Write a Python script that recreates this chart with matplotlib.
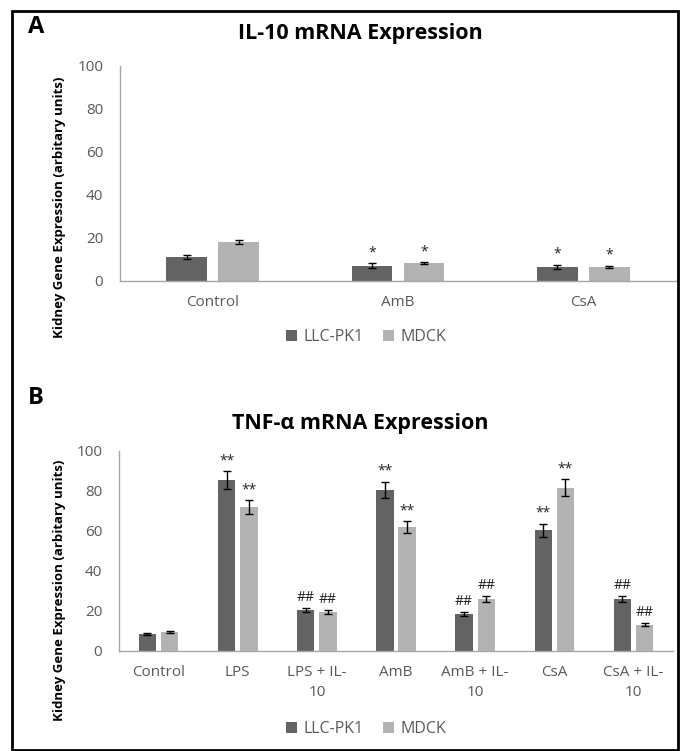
import matplotlib
matplotlib.use("Agg")
import matplotlib.pyplot as plt
import numpy as np
from matplotlib.patches import Rectangle

plt.rcParams["font.family"] = ["Open Sans", "DejaVu Sans"]

DARK = "#636363"
LIGHT = "#b3b3b3"
TICK = "#595959"
SPINE = "#a6a6a6"
SERIES = ["LLC-PK1", "MDCK"]

# panel A: IL-10
il10_cats = ["Control", "AmB", "CsA"]
il10_llc = [11.0, 7.2, 6.6]
il10_llc_err = [1.0, 1.0, 1.0]
il10_mdck = [18.0, 8.2, 6.6]
il10_mdck_err = [1.0, 0.5, 0.5]
il10_llc_mark = ["", "*", "*"]
il10_mdck_mark = ["", "*", "*"]

# panel B: TNF-alpha
tnf_cats = ["Control", "LPS", "LPS + IL-\n10", "AmB", "AmB + IL-\n10", "CsA", "CsA + IL-\n10"]
tnf_llc = [8.7, 85.5, 20.5, 80.5, 18.7, 60.4, 26.0]
tnf_llc_err = [0.5, 4.4, 1.0, 4.2, 1.0, 3.3, 1.5]
tnf_mdck = [9.3, 71.8, 19.4, 61.8, 26.2, 81.6, 13.2]
tnf_mdck_err = [0.5, 3.5, 1.0, 3.0, 1.5, 4.2, 0.8]
tnf_llc_mark = ["", "**", "##", "**", "##", "**", "##"]
tnf_mdck_mark = ["", "**", "##", "**", "##", "**", "##"]

fig = plt.figure(figsize=(6.84, 7.51), dpi=100)
W, H = 684, 751


def px_axes(left, top, right, bottom):
    return fig.add_axes([left / W, 1 - bottom / H, (right - left) / W, (bottom - top) / H])


def panel(ax, cats, llc, llc_err, mdck, mdck_err, llc_mark, mdck_mark):
    x = np.arange(len(cats))
    bw, gap = 0.22, 0.06
    off = (bw + gap) / 2
    ekw = dict(ecolor="black", elinewidth=1, capsize=3, capthick=1)
    ax.bar(x - off, llc, bw, yerr=llc_err, color=DARK, label=SERIES[0], error_kw=ekw)
    ax.bar(x + off, mdck, bw, yerr=mdck_err, color=LIGHT, label=SERIES[1], error_kw=ekw)
    for xs, vals, errs, marks in [(x - off, llc, llc_err, llc_mark), (x + off, mdck, mdck_err, mdck_mark)]:
        for xi, v, e, m in zip(xs, vals, errs, marks):
            if m:
                ax.annotate(m, (xi, v + e), xytext=(0, 2), textcoords="offset points",
                            ha="center", va="bottom", fontsize=10, color="#222222")
    ax.set_xlim(-0.5, len(cats) - 0.5)
    ax.set_ylim(0, 100)
    ax.set_yticks(range(0, 101, 20))
    ax.set_xticks(x)
    ax.set_xticklabels(cats, linespacing=1.45)
    ax.tick_params(axis="both", length=0, labelsize=11, colors=TICK)
    ax.tick_params(axis="y", pad=12)
    ax.tick_params(axis="x", pad=10)
    for s in ["top", "right"]:
        ax.spines[s].set_visible(False)
    for s in ["left", "bottom"]:
        ax.spines[s].set_color(SPINE)
        ax.spines[s].set_linewidth(1)


axA = px_axes(120, 66, 676, 281)
panel(axA, il10_cats, il10_llc, il10_llc_err, il10_mdck, il10_mdck_err, il10_llc_mark, il10_mdck_mark)
axB = px_axes(119, 451, 673, 651)
panel(axB, tnf_cats, tnf_llc, tnf_llc_err, tnf_mdck, tnf_mdck_err, tnf_llc_mark, tnf_mdck_mark)

for ax, ty, ly, lab, lx, labely in [(axA, 33, 337, "A", 28, 27), (axB, 423, 729, "B", 28, 398)]:
    fig.text(360 / W, 1 - ty / H, "IL-10 mRNA Expression" if lab == "A" else "TNF-α mRNA Expression",
             ha="center", va="center", fontsize=15.5, fontweight="bold")
    fig.text(lx / W, 1 - labely / H, lab, ha="left", va="center", fontsize=17, fontweight="bold")
    ax.legend(loc="center", bbox_to_anchor=(366 / W, 1 - ly / H), bbox_transform=fig.transFigure,
              ncol=2, frameon=False, handlelength=0.7, handleheight=0.7, handletextpad=0.4,
              columnspacing=1.2, labelcolor=TICK, fontsize=11.5)

fig.text(60 / W, 1 - 207 / H, "Kidney Gene Expression (arbitary units)", rotation=90,
         ha="center", va="center", fontsize=9.5, fontweight="bold")
fig.text(60 / W, 1 - 590 / H, "Kidney Gene Expression (arbitary units)", rotation=90,
         ha="center", va="center", fontsize=9.5, fontweight="bold")

fig.add_artist(Rectangle((12 / W, 1 - 750 / H), 666 / W, 739 / H, transform=fig.transFigure,
                         fill=False, edgecolor="black", linewidth=2))

fig.savefig("out.png", dpi=100)
